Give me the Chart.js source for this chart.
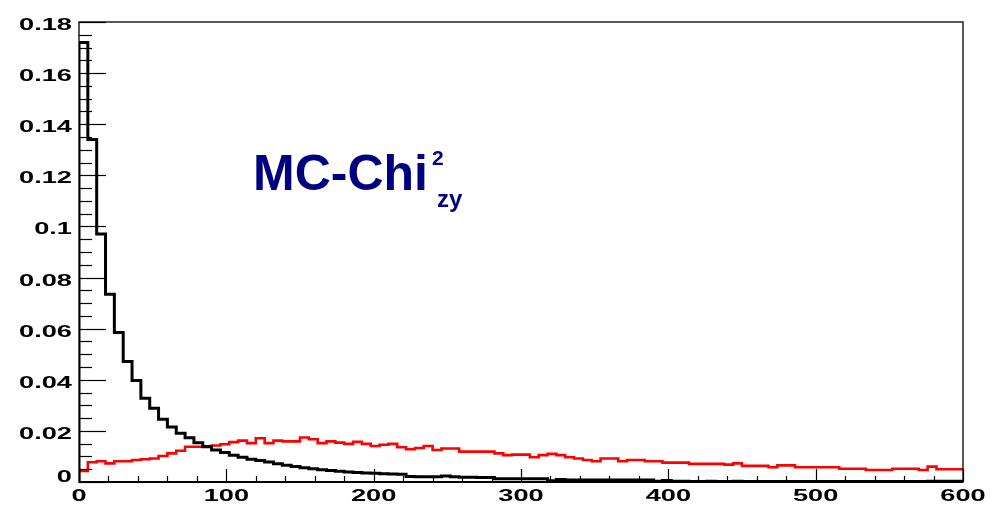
<!DOCTYPE html>
<html>
<head>
<meta charset="utf-8">
<script src="https://cdn.jsdelivr.net/npm/chart.js@4/dist/chart.umd.min.js"></script>
<style>
  html, body { margin: 0; padding: 0; background: #ffffff; }
  #wrap { width: 1007px; height: 508px; position: relative; }
</style>
</head>
<body>
<div id="wrap"><canvas id="c" width="1007" height="508"></canvas></div>
<script>
// Bin edges (100 bins of width 6 from 0 to 600)
const binEdges = [0,6,12,18,24,30,36,42,48,54,60,66,72,78,84,90,96,102,108,114,120,126,132,138,144,150,156,162,168,174,180,186,192,198,204,210,216,222,228,234,240,246,252,258,264,270,276,282,288,294,300,306,312,318,324,330,336,342,348,354,360,366,372,378,384,390,396,402,408,414,420,426,432,438,444,450,456,462,468,474,480,486,492,498,504,510,516,522,528,534,540,546,552,558,564,570,576,582,588,594,600];

// Black histogram (bin contents)
const blackValues = [0.172,0.134,0.097,0.0735,0.0585,0.0472,0.0397,0.0328,0.0289,0.0246,
0.0215,0.0191,0.0173,0.0154,0.0138,0.0125,0.0115,0.0105,0.0097,0.0089,
0.0084,0.0078,0.0071,0.0066,0.0061,0.0056,0.0052,0.0048,0.0045,0.0042,
0.0039,0.0037,0.0035,0.0034,0.0032,0.0031,0.0030,0.0022,0.0021,0.0021,
0.0021,0.0023,0.0021,0.0019,0.0019,0.0018,0.0018,0.0013,0.0013,0.0013,
0.0013,0.0013,0.0013,0.0005,0.0010,0.0008,0.0008,0.0008,0.0008,0.0008,
0.0008,0.0008,0.0008,0.0008,0.0008,0.0003,0.0006,0.0003,0.0003,0.0002,
0.0002,0.0003,0.0002,0.0002,0.0003,0.0002,0.0002,0.0002,0.0002,0.0002,
0.0002,0.0002,0.0002,0.0002,0.0002,0.0002,0.0002,0.0002,0.0002,0.0002,
0.0002,0.0002,0.0002,0.0002,0.0002,0.0002,0.0003,0.0003,0.0003,0.0003];

// Red histogram (bin contents)
const redValues = [0.0043,0.0077,0.0081,0.0073,0.0081,0.0081,0.0086,0.0089,0.0092,0.0102,
0.0112,0.0122,0.0138,0.0138,0.0140,0.0143,0.0148,0.0156,0.0162,0.0152,
0.0171,0.0152,0.0162,0.0159,0.0159,0.0174,0.0167,0.0152,0.0159,0.0154,
0.0149,0.0157,0.0149,0.0141,0.0146,0.0149,0.0136,0.0128,0.0133,0.0141,
0.0125,0.0131,0.0131,0.0119,0.0119,0.0119,0.0119,0.0112,0.0105,0.0107,
0.0107,0.0097,0.0105,0.0110,0.0105,0.0097,0.0092,0.0086,0.0081,0.0092,
0.0092,0.0081,0.0086,0.0086,0.0081,0.0081,0.0076,0.0076,0.0076,0.0071,
0.0071,0.0071,0.0071,0.0068,0.0073,0.0063,0.0063,0.0063,0.0058,0.0065,
0.0065,0.0058,0.0058,0.0058,0.0058,0.0058,0.0052,0.0052,0.0052,0.0047,
0.0047,0.0047,0.0052,0.0052,0.0052,0.0047,0.0060,0.0050,0.0050,0.0050];

// Tick labels
const xTickValues = [0, 100, 200, 300, 400, 500, 600];
const xTickLabels = ['0', '100', '200', '300', '400', '500', '600'];
const yTickValues = [0, 0.02, 0.04, 0.06, 0.08, 0.1, 0.12, 0.14, 0.16, 0.18];
const yTickLabels = ['0', '0.02', '0.04', '0.06', '0.08', '0.1', '0.12', '0.14', '0.16', '0.18'];

const titleMain = 'MC-Chi';
const titleSup = '2';
const titleSub = 'zy';

function histPoints(values, startAtZero) {
  const pts = [];
  if (startAtZero) pts.push({ x: binEdges[0], y: 0 });
  // each bin: horizontal at the bin value from its low edge to its high edge
  for (let i = 0; i < values.length; i++) {
    pts.push({ x: binEdges[i], y: values[i] });
    pts.push({ x: binEdges[i + 1], y: values[i] });
  }
  return pts;
}

const LABEL_FONT = 'bold 17px "Liberation Sans", Arial, sans-serif';
const STRETCH = 1.6;

function stretchedText(ctx, text, x, y, align) {
  ctx.save();
  ctx.translate(x, y);
  ctx.scale(STRETCH, 1);
  ctx.textAlign = align;
  ctx.textBaseline = 'alphabetic';
  ctx.fillText(text, 0, 0);
  ctx.restore();
}

const rootFrame = {
  id: 'rootFrame',
  afterDraw(chart) {
    const ctx = chart.ctx;
    const a = chart.chartArea;
    const xs = chart.scales.x, ys = chart.scales.y;
    ctx.save();
    ctx.strokeStyle = '#000';
    // frame
    ctx.lineWidth = 1.3;
    ctx.strokeRect(a.left, a.top, a.right - a.left, a.bottom - a.top);
    ctx.lineWidth = 2;
    ctx.beginPath(); ctx.moveTo(a.left, a.bottom); ctx.lineTo(a.right, a.bottom); ctx.stroke();
    // y ticks (inside)
    ctx.lineWidth = 1.2;
    ys.ticks.forEach(t => {
      const v = t.value;
      const major = Math.abs(v / 0.02 - Math.round(v / 0.02)) < 1e-6;
      const py = Math.round(ys.getPixelForValue(v)) + 0.5;
      const len = major ? 27 : 13;
      ctx.beginPath(); ctx.moveTo(a.left, py); ctx.lineTo(a.left + len, py); ctx.stroke();
    });
    // x ticks (inside)
    xs.ticks.forEach(t => {
      const v = t.value;
      const major = Math.abs(v / 100 - Math.round(v / 100)) < 1e-6;
      const px = Math.round(xs.getPixelForValue(v)) + 0.5;
      const len = major ? 13 : 6;
      ctx.beginPath(); ctx.moveTo(px, a.bottom); ctx.lineTo(px, a.bottom - len); ctx.stroke();
    });
    // labels
    ctx.fillStyle = '#000';
    ctx.font = LABEL_FONT;
    yTickValues.forEach((v, i) => {
      const py = ys.getPixelForValue(v);
      const base = v === 0 ? py : py + 8;
      stretchedText(ctx, yTickLabels[i], 72, base, 'right');
    });
    xTickValues.forEach((v, i) => {
      const px = xs.getPixelForValue(v);
      stretchedText(ctx, xTickLabels[i], px, 501, 'center');
    });
    // title
    ctx.fillStyle = '#000080';
    ctx.textAlign = 'left';
    ctx.textBaseline = 'alphabetic';
    ctx.font = 'bold 50px "Liberation Sans", Arial, sans-serif';
    ctx.fillText(titleMain, 253, 190);
    const w = ctx.measureText(titleMain).width;
    ctx.font = 'bold 21px "Liberation Sans", Arial, sans-serif';
    ctx.fillText(titleSup, 253 + w + 4, 165);
    ctx.font = 'bold 24px "Liberation Sans", Arial, sans-serif';
    ctx.fillText(titleSub, 253 + w + 9, 207);
    ctx.restore();
  }
};

new Chart(document.getElementById('c'), {
  type: 'line',
  data: {
    datasets: [
      {
        label: 'black',
        data: histPoints(blackValues, true),
        borderColor: '#000000',
        borderWidth: 3,
        pointRadius: 0,
        tension: 0,
        fill: false,
        borderJoinStyle: 'miter'
      },
      {
        label: 'red',
        data: histPoints(redValues, true),
        borderColor: '#ff0000',
        borderWidth: 2.6,
        pointRadius: 0,
        tension: 0,
        fill: false,
        borderJoinStyle: 'miter'
      }
    ]
  },
  options: {
    responsive: false,
    animation: false,
    layout: { padding: { left: 79, right: 44, top: 22, bottom: 26 } },
    plugins: { legend: { display: false }, tooltip: { enabled: false }, title: { display: false } },
    scales: {
      x: {
        type: 'linear', min: 0, max: 600,
        ticks: { display: false, stepSize: 20 },
        grid: { display: false, drawTicks: false, tickLength: 0 },
        border: { display: false }
      },
      y: {
        type: 'linear', min: 0, max: 0.18,
        ticks: { display: false, stepSize: 0.005 },
        grid: { display: false, drawTicks: false, tickLength: 0 },
        border: { display: false }
      }
    }
  },
  plugins: [rootFrame]
});
</script>
</body>
</html>
